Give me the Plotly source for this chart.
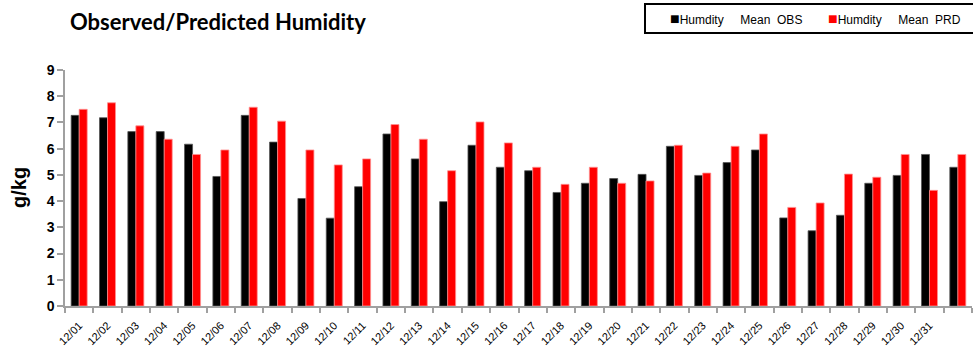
import plotly.graph_objects as go

categories = [f"12/{d:02d}" for d in range(1, 32)] + [" "]
obs_values = [7.27, 7.18, 6.65, 6.65, 6.17, 4.94, 7.27, 6.25, 4.10, 3.35,
              4.55, 6.56, 5.61, 3.98, 6.13, 5.29, 5.16, 4.33, 4.68, 4.86,
              5.02, 6.09, 4.98, 5.47, 5.95, 3.36, 2.87, 3.46, 4.68, 4.98,
              5.78, 5.29]
prd_values = [7.50, 7.75, 6.87, 6.36, 5.78, 5.95, 7.58, 7.05, 5.95, 5.38,
              5.61, 6.92, 6.36, 5.16, 7.02, 6.22, 5.29, 4.64, 5.29, 4.68,
              4.77, 6.13, 5.07, 6.09, 6.56, 3.76, 3.93, 5.03, 4.91, 5.78,
              4.41, 5.78]
y_ticks = [0, 1, 2, 3, 4, 5, 6, 7, 8, 9]
legend_labels = ["Humdity\u00a0\u00a0\u00a0\u00a0\u00a0Mean\u00a0\u00a0OBS",
                 "Humdity\u00a0\u00a0\u00a0\u00a0\u00a0Mean\u00a0\u00a0PRD"]
series_colors = ["#000000", "#ff0000"]

fig = go.Figure()
fig.add_trace(go.Bar(name="Humdity Mean OBS", x=categories, y=obs_values,
                     marker=dict(color=series_colors[0], line=dict(color="#555555", width=0.8))))
fig.add_trace(go.Bar(name="Humdity Mean PRD", x=categories, y=prd_values,
                     marker=dict(color=series_colors[1], line=dict(color="#ff9090", width=0.8))))

W, H = 973, 348
ml, mr, mt, mb = 65, 1, 70, 42
pw = W - ml - mr
ph = H - mt - mb


def px_x(x):
    return (x - ml) / pw


def px_y(y):
    return (H - mb - y) / ph


fig.update_layout(
    width=W, height=H,
    margin=dict(l=ml, r=mr, t=mt, b=mb, autoexpand=False),
    paper_bgcolor="white", plot_bgcolor="white",
    barmode="group", bargap=0.435, bargroupgap=0,
    showlegend=False,
    title=dict(text="<b>Observed/Predicted Humidity</b>",
               font=dict(family="Lato", size=22, color="#000"),
               x=70 / W, xanchor="left", xref="container",
               y=1 - 22 / H, yanchor="middle", yref="container"),
    font=dict(family="Liberation Sans, Arial", color="#000"),
    xaxis=dict(
        automargin=False,
        showline=True, linecolor="#a0a0a0", linewidth=1.5,
        ticks="outside", ticklen=5, tickcolor="#a0a0a0", tickwidth=1.5,
        tickson="boundaries", tickangle=-45, ticklabelstandoff=7,
        tickfont=dict(family="Liberation Sans, Arial", size=11, color="#000"),
        showgrid=False, zeroline=False,
    ),
    yaxis=dict(
        automargin=False,
        range=[0, 9], tickvals=y_ticks,
        showline=True, linecolor="#a0a0a0", linewidth=1.5,
        ticks="outside", ticklen=6, tickcolor="#a0a0a0", tickwidth=1.5,
        tickfont=dict(family="Liberation Sans, Arial", size=14, color="#000", weight="bold"),
        showgrid=False, zeroline=False,
    ),
)

# y-axis title
fig.add_annotation(text="<b>g/kg</b>", textangle=-90, showarrow=False,
                   xref="paper", yref="paper", x=px_x(19), y=0.5,
                   xanchor="center", yanchor="middle",
                   font=dict(family="Liberation Sans, Arial", size=20, color="#000"))

# legend box
fig.add_shape(type="rect", xref="paper", yref="paper",
              x0=px_x(645), x1=px_x(985), y0=px_y(33), y1=px_y(4),
              line=dict(color="#000", width=2), fillcolor="rgba(0,0,0,0)", layer="above")
for label, color, xpos in zip(legend_labels, series_colors, [668, 826]):
    fig.add_annotation(
        text=f"<span style='font-size:16px; color:{color}'>■</span>{label}",
        showarrow=False, xref="paper", yref="paper",
        x=px_x(xpos), y=px_y(19), xanchor="left", yanchor="middle",
        font=dict(family="Liberation Sans, Arial", size=12, color="#000"),
    )

fig.write_html("out.html", config={"displayModeBar": False},
               post_script="document.body.style.margin='0';document.body.style.overflow='hidden';")
